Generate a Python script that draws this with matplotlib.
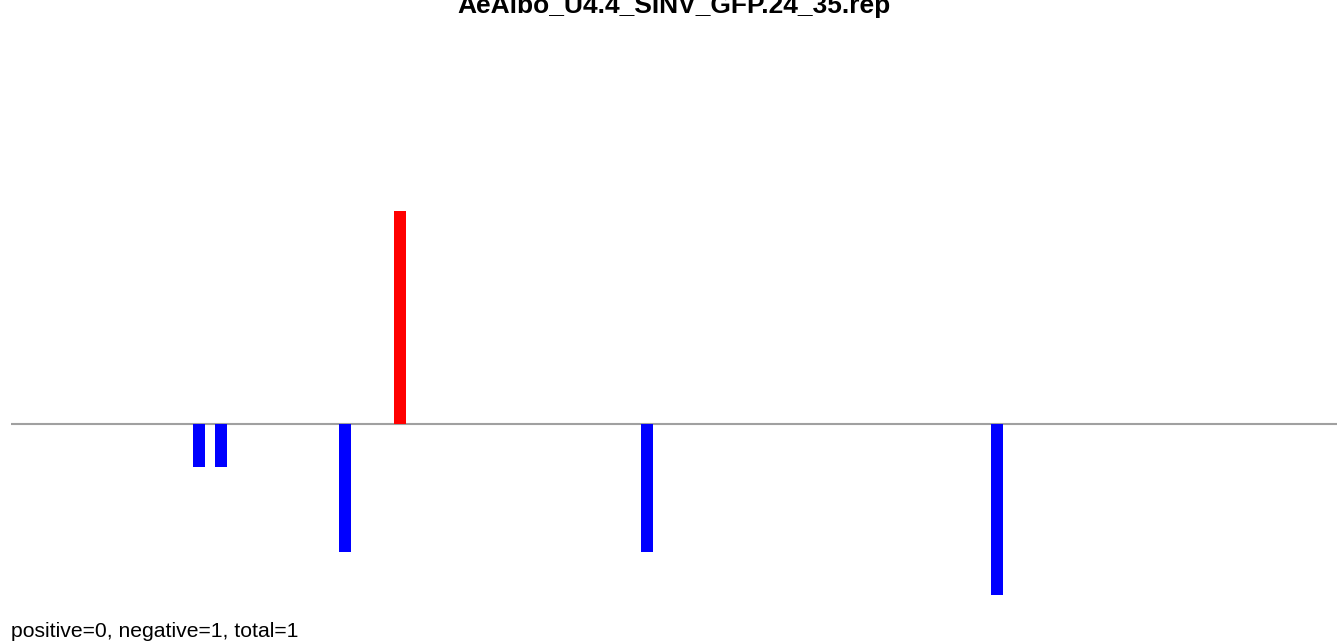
import matplotlib
matplotlib.use("Agg")
import matplotlib.pyplot as plt

# read positions (arbitrary units along the sequence) and counts
positions = [85, 95, 151, 176, 288, 446]
counts = [-1, -1, -3, 5, -3, -4]
seq_len = 600
title = "AeAlbo_U4.4_SINV_GFP.24_35.rep"
footer = "positive=0, negative=1, total=1"

plt.rcParams['font.family'] = ['Liberation Sans', 'DejaVu Sans']

W, H = 1337, 643
fig = plt.figure(figsize=(W / 100, H / 100), dpi=100)
ax = fig.add_axes([11 / W, 0, 1326 / W, 1])

colors = ['red' if c > 0 else 'blue' for c in counts]
ax.bar(positions, counts, width=5.43, color=colors, zorder=2)
ax.axhline(0, color='#a0a0a0', linewidth=1.5, zorder=1)

ax.set_xlim(0, seq_len)
ax.set_ylim(-5.13, 9.94)
ax.axis('off')

fig.text(674 / W, 1 - 13 / H, title, ha='center', va='baseline',
         fontsize=19, fontweight='bold')
fig.text(11 / W, 1 - 637 / H, footer, ha='left', va='baseline', fontsize=15.2)

fig.savefig("out.png", dpi=100)
